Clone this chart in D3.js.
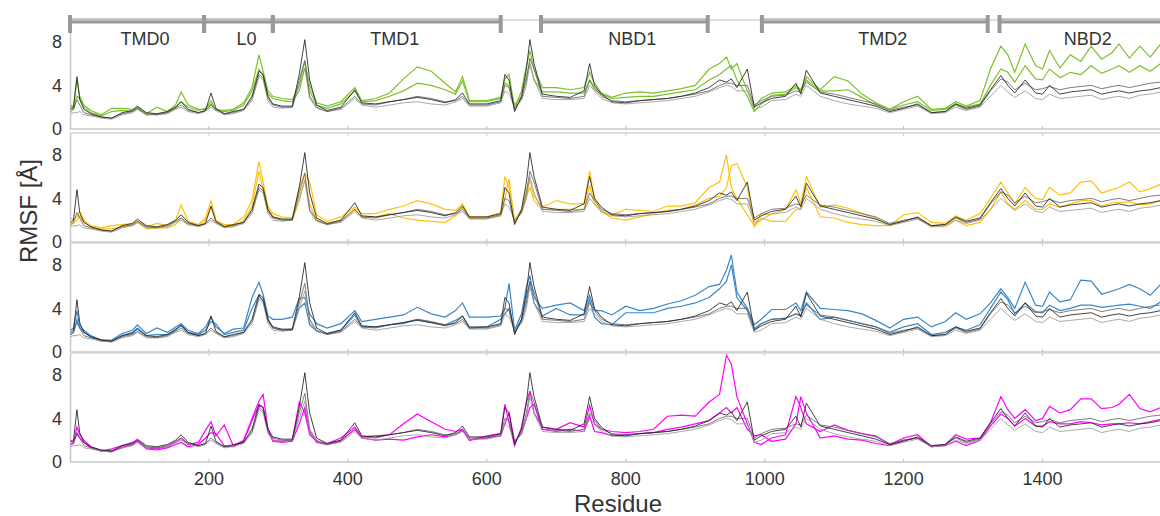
<!DOCTYPE html>
<html>
<head>
<meta charset="utf-8">
<script src="https://cdn.jsdelivr.net/npm/d3@7"></script>
<style>
  body { margin: 0; background: #fff; }
  text { font-family: "Liberation Sans", Arial, sans-serif; fill: #333; }
</style>
</head>
<body>
<div id="chart"></div>
<script>
// sampled residue positions (shared by every series)
const residues = [1, 5, 10, 14, 20, 30, 45, 60, 75, 90,
  97, 110, 125, 140, 152, 160, 170, 185, 195, 203,
  210, 222, 235, 250, 262, 272, 278, 285, 292, 305,
  320, 330, 338, 345, 355, 370, 390, 410, 420, 440,
  460, 480, 500, 520, 540, 555, 565, 575, 600, 620,
  626, 632, 640, 650, 657, 662, 668, 680, 700, 720,
  740, 748, 755, 765, 780, 800, 820, 840, 860, 880,
  900, 920, 935, 945, 952, 960, 975, 985, 995, 1010,
  1030, 1045, 1052, 1060, 1080, 1100, 1120, 1140, 1160, 1180,
  1200, 1220, 1240, 1260, 1275, 1290, 1310, 1325, 1340, 1350,
  1360, 1375, 1390, 1400, 1410, 1425, 1440, 1455, 1470, 1485,
  1500, 1510, 1525, 1540, 1555, 1570, 1582];

// reference runs (grey, same in every panel)
const refA = [1.8, 2.0, 4.8, 2.7, 1.8, 1.4, 1.1, 1.0, 1.5, 1.7,
  2.1, 1.5, 1.4, 1.6, 2.0, 2.5, 1.8, 1.5, 1.7, 3.3,
  1.9, 1.4, 1.6, 1.8, 3.0, 5.3, 5.0, 3.0, 2.3, 2.1,
  2.1, 5.0, 8.2, 4.5, 2.2, 1.7, 2.0, 3.6, 2.4, 2.3,
  2.5, 2.7, 2.9, 2.7, 2.4, 2.7, 3.3, 2.3, 2.3, 2.6,
  5.0, 4.5, 1.6, 3.0, 5.5, 8.2, 6.0, 3.2, 3.0, 2.9,
  3.5, 6.0, 4.0, 3.2, 2.5, 2.4, 2.6, 2.7, 2.8, 3.0,
  3.3, 3.8, 4.5, 4.3, 4.6, 3.8, 5.5, 2.0, 2.4, 2.8,
  3.0, 4.2, 3.2, 5.4, 3.3, 3.0, 2.7, 2.4, 2.1, 1.6,
  1.9, 2.3, 1.5, 1.6, 2.3, 1.9, 2.2, 3.6, 4.9, 4.0,
  3.3, 4.5, 3.3, 3.2, 4.0, 3.2, 3.4, 3.5, 3.6, 3.2,
  3.4, 3.5, 3.3, 3.5, 3.6, 3.8, 3.9];
const refB = [1.6, 1.8, 2.7, 2.2, 1.5, 1.3, 1.1, 1.0, 1.4, 1.6,
  1.9, 1.4, 1.3, 1.5, 1.9, 2.2, 1.7, 1.5, 1.7, 2.2,
  1.8, 1.4, 1.5, 1.8, 2.8, 5.0, 4.7, 2.8, 2.2, 2.0,
  2.0, 4.5, 6.3, 3.0, 2.0, 1.6, 1.9, 3.0, 2.3, 2.2,
  2.5, 2.7, 3.0, 2.8, 2.5, 2.6, 3.0, 2.2, 2.2, 2.5,
  4.0, 3.8, 1.8, 2.8, 4.5, 6.5, 5.5, 3.0, 2.9, 2.8,
  3.0, 4.5, 3.8, 3.0, 2.6, 2.5, 2.6, 2.7, 2.8, 3.0,
  3.2, 3.5, 4.0, 4.2, 4.2, 4.0, 4.0, 2.2, 2.6, 3.0,
  3.1, 3.5, 3.4, 4.3, 3.4, 3.2, 2.9, 2.6, 2.3, 1.7,
  2.0, 2.2, 1.5, 1.6, 2.2, 1.8, 2.1, 3.5, 4.6, 4.3,
  3.6, 4.2, 3.6, 3.7, 3.9, 3.6, 3.8, 3.9, 4.0, 3.7,
  3.9, 4.0, 3.8, 4.0, 4.2, 4.3, 4.4];
const refC = [1.4, 1.5, 1.5, 1.6, 1.3, 1.2, 1.0, 0.9, 1.3, 1.5,
  1.8, 1.3, 1.3, 1.4, 1.8, 2.0, 1.6, 1.4, 1.6, 2.0,
  1.7, 1.3, 1.4, 1.7, 2.6, 4.8, 4.5, 2.6, 2.0, 1.9,
  2.0, 4.0, 5.6, 2.8, 1.9, 1.6, 1.8, 2.8, 2.2, 2.0,
  2.2, 2.4, 2.5, 2.3, 2.2, 2.5, 2.8, 2.1, 2.1, 2.4,
  3.5, 3.2, 2.0, 2.6, 4.0, 6.0, 4.5, 2.8, 2.7, 2.7,
  2.8, 4.0, 3.5, 2.8, 2.4, 2.3, 2.4, 2.5, 2.6, 2.8,
  3.0, 3.4, 3.8, 4.0, 3.9, 3.5, 3.5, 1.8, 2.0, 2.6,
  2.7, 3.2, 3.0, 4.0, 3.0, 2.6, 2.3, 2.1, 1.9, 1.5,
  1.8, 2.1, 1.4, 1.5, 2.0, 1.7, 2.0, 3.0, 4.0, 3.4,
  2.9, 3.5, 2.8, 2.7, 3.2, 2.8, 2.9, 3.0, 3.1, 2.7,
  2.9, 3.0, 2.8, 3.1, 3.2, 3.4, 3.5];

// panel 1 (green)
const greenA = [2.2, 2.0, 4.5, 3.0, 2.2, 1.7, 1.3, 1.9, 1.9, 1.8,
  2.0, 1.4, 2.0, 1.6, 2.2, 3.4, 2.2, 1.8, 1.8, 2.6,
  1.7, 1.7, 1.8, 2.4, 3.8, 6.8, 5.3, 3.5, 3.0, 2.8,
  2.7, 4.0, 6.2, 4.0, 2.4, 2.1, 2.5, 3.8, 2.6, 2.8,
  3.3, 4.6, 5.7, 5.3, 4.2, 3.4, 4.8, 2.6, 2.6, 2.9,
  4.6, 5.0, 1.9, 3.5, 5.8, 7.2, 5.5, 3.8, 3.8, 3.6,
  3.8, 5.2, 4.2, 3.3, 2.9, 3.3, 3.4, 3.3, 3.5, 3.7,
  4.0, 5.5, 6.0, 6.6, 5.5, 6.0, 3.5, 2.0, 2.8, 3.3,
  3.4, 4.0, 3.6, 4.8, 3.6, 4.8, 4.4, 3.2, 2.4, 1.8,
  2.5, 3.0, 1.8, 1.9, 2.5, 2.1, 2.6, 5.5, 7.6, 6.8,
  5.2, 7.8, 5.8, 5.5, 7.2, 5.6, 6.8, 6.2, 7.6, 6.4,
  7.0, 7.8, 6.5, 7.6, 6.6, 7.8, 7.2];
const greenB = [2.0, 1.8, 3.0, 2.8, 2.0, 1.5, 1.2, 1.6, 1.7, 1.6,
  1.9, 1.3, 1.4, 1.5, 2.0, 2.5, 2.0, 1.7, 1.9, 2.3,
  1.8, 1.6, 1.7, 2.2, 3.5, 5.5, 4.9, 3.2, 2.8, 2.6,
  2.5, 3.5, 5.6, 3.5, 2.2, 1.9, 2.3, 3.5, 2.5, 2.6,
  3.0, 3.5, 4.2, 4.0, 3.6, 3.2, 4.4, 2.5, 2.5, 2.8,
  4.2, 4.0, 2.2, 3.0, 4.8, 6.0, 4.5, 3.4, 3.4, 3.3,
  3.3, 4.5, 3.6, 3.2, 2.8, 2.9, 3.0, 3.0, 3.2, 3.4,
  3.6, 4.5, 5.0, 5.5, 5.8, 4.5, 3.0, 1.6, 2.3, 3.1,
  3.2, 3.8, 3.5, 4.5, 3.5, 3.5, 3.6, 2.9, 2.2, 1.8,
  2.2, 2.5, 1.7, 1.8, 2.3, 2.0, 2.3, 4.0, 5.5, 5.2,
  4.3, 5.8, 4.6, 4.5, 5.5, 4.7, 5.2, 5.0, 5.8, 5.1,
  5.5, 5.8, 5.2, 5.8, 5.3, 6.0, 6.4];

// panel 2 (yellow)
const yellowA = [2.2, 2.0, 2.3, 2.8, 2.0, 1.5, 1.3, 1.5, 1.6, 1.7,
  1.9, 1.4, 1.7, 1.5, 2.0, 3.4, 1.9, 1.6, 2.2, 3.8,
  2.0, 1.6, 1.6, 2.3, 3.8, 7.4, 5.5, 3.3, 2.6, 2.3,
  2.2, 5.0, 6.3, 5.5, 2.5, 1.9, 2.3, 3.2, 2.6, 2.6,
  3.0, 3.3, 3.8, 3.5, 3.0, 2.9, 3.5, 2.3, 2.3, 2.7,
  6.0, 5.0, 2.0, 3.0, 4.8, 5.6, 4.2, 3.2, 3.8, 3.5,
  3.5, 6.5, 4.0, 2.8, 2.5, 3.0, 2.9, 2.8, 3.3, 3.3,
  3.6, 5.0, 5.5, 8.0, 5.0, 4.0, 2.5, 1.5, 2.6, 2.5,
  3.0, 4.8, 3.5, 6.0, 3.2, 3.4, 3.1, 2.6, 2.2, 1.5,
  2.5, 2.7, 1.8, 1.7, 2.4, 2.0, 2.6, 4.0, 5.5, 4.5,
  3.5, 5.0, 4.0, 3.9, 5.0, 4.3, 4.5, 5.5, 5.6, 4.5,
  4.8, 5.0, 5.5, 4.6, 4.9, 5.3, 5.4];
const yellowB = [1.6, 1.7, 2.0, 2.4, 1.8, 1.4, 1.2, 1.2, 1.4, 1.5,
  1.8, 1.2, 1.3, 1.3, 1.6, 2.2, 1.6, 1.5, 2.0, 3.2,
  1.9, 1.5, 1.4, 2.0, 3.3, 6.5, 4.8, 3.0, 2.3, 2.1,
  2.0, 3.8, 5.8, 3.5, 2.0, 1.7, 2.0, 3.0, 2.3, 2.3,
  2.6, 2.2, 2.0, 1.9, 1.8, 2.4, 3.2, 2.2, 2.2, 2.4,
  4.0, 5.8, 1.8, 2.8, 4.2, 5.0, 3.8, 3.0, 3.0, 3.0,
  3.0, 5.2, 3.5, 2.8, 2.2, 2.0, 2.3, 2.6, 2.9, 3.0,
  3.4, 4.0, 4.2, 5.0, 7.0, 7.2, 5.0, 1.4, 2.2, 1.9,
  1.9, 3.0, 3.0, 5.0, 2.3, 2.2, 1.8, 1.6, 1.5, 1.5,
  1.9, 2.2, 1.4, 1.4, 2.0, 1.5, 1.8, 3.0, 4.6, 3.5,
  3.0, 3.8, 3.0, 3.0, 3.5, 3.2, 3.5, 3.8, 3.8, 3.3,
  3.6, 3.6, 3.7, 3.4, 3.5, 3.8, 4.0];

// panel 3 (blue)
const blueA = [2.0, 2.2, 3.8, 2.4, 2.0, 1.5, 1.1, 1.1, 1.7, 2.0,
  2.5, 1.7, 2.2, 1.8, 2.3, 2.6, 2.0, 1.7, 2.3, 3.2,
  2.3, 1.7, 2.1, 2.2, 5.0, 6.4, 5.3, 3.3, 3.0, 3.0,
  3.2, 4.9, 5.0, 3.5, 2.6, 2.2, 2.6, 3.8, 2.8, 3.0,
  3.2, 3.4, 4.1, 3.5, 3.2, 3.8, 4.5, 3.2, 3.2, 3.3,
  4.0, 6.3, 2.0, 3.5, 6.0, 7.0, 5.0, 4.0, 4.3, 4.5,
  3.8, 5.2, 3.8, 3.8, 3.4, 4.2, 3.8, 4.0, 4.4, 4.7,
  5.2, 6.0, 6.2, 7.5, 8.9, 5.5, 4.0, 2.5, 3.0, 3.9,
  3.9, 4.5, 3.8, 5.5, 4.0, 3.9, 3.8, 3.5, 2.9, 2.2,
  3.0, 3.2, 2.3, 2.8, 3.6, 3.0, 3.5, 4.5, 5.8, 5.0,
  4.0, 6.4, 4.3, 4.2, 5.5, 4.6, 4.8, 6.6, 6.5, 5.3,
  5.6, 5.8, 6.2, 5.8, 5.2, 6.2, 6.0];
const blueB = [1.6, 1.8, 3.0, 2.2, 1.8, 1.4, 1.0, 1.0, 1.5, 1.8,
  2.2, 1.5, 1.6, 1.6, 2.1, 2.4, 1.8, 1.6, 2.0, 2.8,
  2.6, 1.6, 1.8, 2.0, 4.0, 5.2, 4.7, 3.0, 2.2, 2.0,
  2.1, 4.0, 4.5, 2.5, 1.9, 1.7, 2.0, 3.4, 2.3, 2.3,
  2.5, 2.6, 3.0, 2.7, 2.5, 2.9, 3.3, 2.2, 2.3, 3.0,
  3.5, 4.0, 1.8, 3.0, 5.0, 6.5, 4.5, 3.3, 4.0, 3.4,
  3.4, 4.8, 3.2, 2.6, 2.5, 3.6, 3.6, 3.6, 4.0, 4.2,
  4.5, 5.0, 5.8, 6.5, 8.0, 5.0, 3.8, 2.0, 2.6, 3.0,
  3.1, 3.5, 3.3, 4.5, 3.0, 3.2, 2.9, 2.6, 2.3, 1.8,
  2.3, 2.6, 1.6, 1.8, 2.3, 2.0, 2.5, 4.0, 5.5, 4.8,
  3.5, 4.5, 3.7, 3.6, 4.3, 3.8, 4.0, 4.3, 4.3, 4.1,
  4.2, 4.3, 4.4, 4.2, 4.0, 4.6, 4.8];

// panel 4 (magenta)
const magentaA = [2.0, 1.8, 3.2, 2.5, 2.0, 1.4, 1.0, 1.2, 1.5, 1.8,
  2.0, 1.3, 1.2, 1.4, 1.8, 2.2, 1.6, 1.8, 2.9, 3.7,
  2.4, 3.4, 1.5, 2.0, 4.0, 5.6, 6.2, 3.0, 2.0, 1.9,
  2.0, 5.5, 4.5, 2.5, 1.9, 1.7, 2.2, 3.2, 2.3, 2.4,
  2.5, 3.5, 4.4, 3.7, 3.0, 2.8, 3.0, 2.0, 2.4, 2.6,
  5.3, 3.6, 1.5, 3.2, 5.5, 6.5, 4.5, 3.2, 3.0, 3.6,
  3.2, 5.2, 3.5, 3.0, 2.8, 2.7, 2.8, 3.0, 4.2, 4.3,
  4.2, 5.5, 6.2, 9.8, 9.0, 6.0, 3.5, 1.8, 1.6, 2.2,
  2.5, 6.0, 5.0, 3.5, 2.8, 3.4, 2.9, 2.6, 2.4, 1.6,
  2.2, 2.5, 1.4, 1.6, 2.5, 2.1, 2.2, 3.6, 6.0, 4.8,
  4.0, 4.8, 3.8, 4.0, 5.1, 4.5, 4.8, 5.8, 5.8, 4.9,
  5.0, 5.3, 6.2, 4.9, 4.6, 5.0, 5.2];
const magentaB = [1.6, 1.7, 2.6, 2.2, 1.8, 1.3, 1.0, 1.0, 1.3, 1.6,
  1.9, 1.2, 1.1, 1.3, 1.6, 1.8, 1.4, 1.6, 2.2, 2.7,
  2.6, 1.5, 1.4, 1.9, 3.8, 5.2, 5.0, 2.8, 1.9, 1.8,
  1.9, 3.5, 5.0, 2.8, 1.8, 1.6, 2.0, 3.0, 2.2, 2.0,
  2.1, 2.0, 2.3, 2.5, 2.3, 2.5, 2.9, 2.0, 2.2, 2.4,
  3.5, 4.5, 1.9, 2.6, 4.0, 5.0, 5.3, 3.0, 2.8, 3.0,
  2.8, 4.2, 2.8, 2.7, 2.4, 2.5, 2.6, 2.7, 3.0, 3.2,
  3.5, 3.8, 4.5, 5.0, 4.5, 5.0, 3.0, 2.4, 2.5, 1.9,
  2.1, 3.5, 6.0, 4.5, 2.2, 2.4, 2.1, 2.0, 1.7, 1.5,
  2.0, 2.2, 1.4, 1.5, 1.9, 1.5, 2.0, 3.3, 4.4, 4.0,
  3.3, 4.0, 3.3, 3.3, 3.7, 3.5, 3.5, 3.7, 3.6, 3.4,
  3.5, 3.5, 3.6, 3.5, 3.7, 3.9, 4.0];

// domain annotations
const domainNames = ['TMD0', 'L0', 'TMD1', 'NBD1', 'TMD2', 'NBD2'];
const domainStart = [0, 193, 292, 678, 996, 1338];
const domainEnd = [193, 292, 620, 918, 1321, 1600];

const xTicks = [200, 400, 600, 800, 1000, 1200, 1400];
const yTicks = [0, 4, 8];

const panelColors = ['#7cc22a', '#ffc20e', '#3a87c8', '#ff00ff'];
const panelSeries = [[greenA, greenB], [yellowA, yellowB], [blueA, blueB], [magentaA, magentaB]];
const refSeries = [refC, refB, refA];
const refColors = ['#9a9a9a', '#666', '#222'];

const W = 1160, H = 516;
const panelTops = [20, 133, 243, 353];
const panelH = 109;

const svg = d3.select('#chart').append('svg')
  .attr('width', W).attr('height', H);

const x = d3.scaleLinear().domain([0, 1582]).range([70, 1169]);

panelTops.forEach((top, i) => {
  const y = d3.scaleLinear().domain([0, 10]).range([top + panelH, top]);
  const g = svg.append('g');

  svg.append('clipPath').attr('id', 'clip' + i)
    .append('rect').attr('x', 70).attr('y', top - 1).attr('width', W).attr('height', panelH + 1);

  // frame lines
  g.append('line').attr('x1', 70).attr('x2', W).attr('y1', top + panelH).attr('y2', top + panelH)
    .attr('stroke', '#c8c8c8').attr('stroke-width', 1.5);
  g.append('line').attr('x1', 70).attr('x2', W).attr('y1', top).attr('y2', top)
    .attr('stroke', '#d4d4d4').attr('stroke-width', 1.5);

  // small residue ticks on frame
  g.selectAll('.xt').data(xTicks).enter().append('line')
    .attr('x1', d => x(d)).attr('x2', d => x(d))
    .attr('y1', top + panelH).attr('y2', top + panelH - 3)
    .attr('stroke', '#bbb');
  g.selectAll('.xt2').data(xTicks).enter().append('line')
    .attr('x1', d => x(d)).attr('x2', d => x(d))
    .attr('y1', top).attr('y2', top + 3)
    .attr('stroke', '#ccc');

  const yAxis = d3.axisLeft(y).tickValues(yTicks).tickSize(0).tickPadding(8);
  const ya = g.append('g').attr('transform', 'translate(70,0)').call(yAxis);
  ya.select('.domain').attr('stroke', '#c8c8c8').attr('stroke-width', 1.5);
  ya.selectAll('text').attr('font-size', 18).attr('fill', '#333')
    .attr('font-family', '"Liberation Sans", Arial, sans-serif');

  const line = d3.line()
    .x((d, j) => x(residues[j]))
    .y(d => y(d));

  const plot = g.append('g').attr('clip-path', 'url(#clip' + i + ')');

  panelSeries[i].forEach(s => {
    plot.append('path').datum(s)
      .attr('d', line)
      .attr('fill', 'none')
      .attr('stroke', panelColors[i])
      .attr('stroke-width', 1.2);
  });

  refSeries.forEach((s, k) => {
    plot.append('path').datum(s)
      .attr('d', line)
      .attr('fill', 'none')
      .attr('stroke', refColors[k])
      .attr('stroke-width', 1)
      .attr('stroke-opacity', 0.85);
  });
});

// domain bars on top of first panel
const dom = svg.append('g');
const barY = 21;
domainNames.forEach((name, i) => {
  const x0 = x(domainStart[i]), x1 = Math.min(x(domainEnd[i]), W + 10);
  dom.append('line').attr('x1', x0).attr('x2', x1).attr('y1', barY).attr('y2', barY)
    .attr('stroke', '#999').attr('stroke-width', 5);
  dom.append('line').attr('x1', x0).attr('x2', x1).attr('y1', barY - 1).attr('y2', barY - 1)
    .attr('stroke', '#ddd').attr('stroke-width', 1.2);
  [x0, x1].forEach(xx => {
    dom.append('line').attr('x1', xx).attr('x2', xx).attr('y1', barY - 6).attr('y2', barY + 12)
      .attr('stroke', '#999').attr('stroke-width', 4);
  });
  dom.append('text')
    .attr('x', (x0 + Math.min(x1, W)) / 2 + 8)
    .attr('y', 45)
    .attr('text-anchor', 'middle')
    .attr('font-size', 18)
    .text(name);
});

// x tick labels
svg.selectAll('.xl').data(xTicks).enter().append('text')
  .attr('x', d => x(d)).attr('y', 485)
  .attr('text-anchor', 'middle').attr('font-size', 18)
  .text(d => d);

svg.append('text')
  .attr('x', 618).attr('y', 512)
  .attr('text-anchor', 'middle').attr('font-size', 24)
  .text('Residue');

svg.append('text')
  .attr('transform', 'translate(37,211) rotate(-90)')
  .attr('text-anchor', 'middle').attr('font-size', 24)
  .text('RMSF [Å]');
</script>
</body>
</html>
